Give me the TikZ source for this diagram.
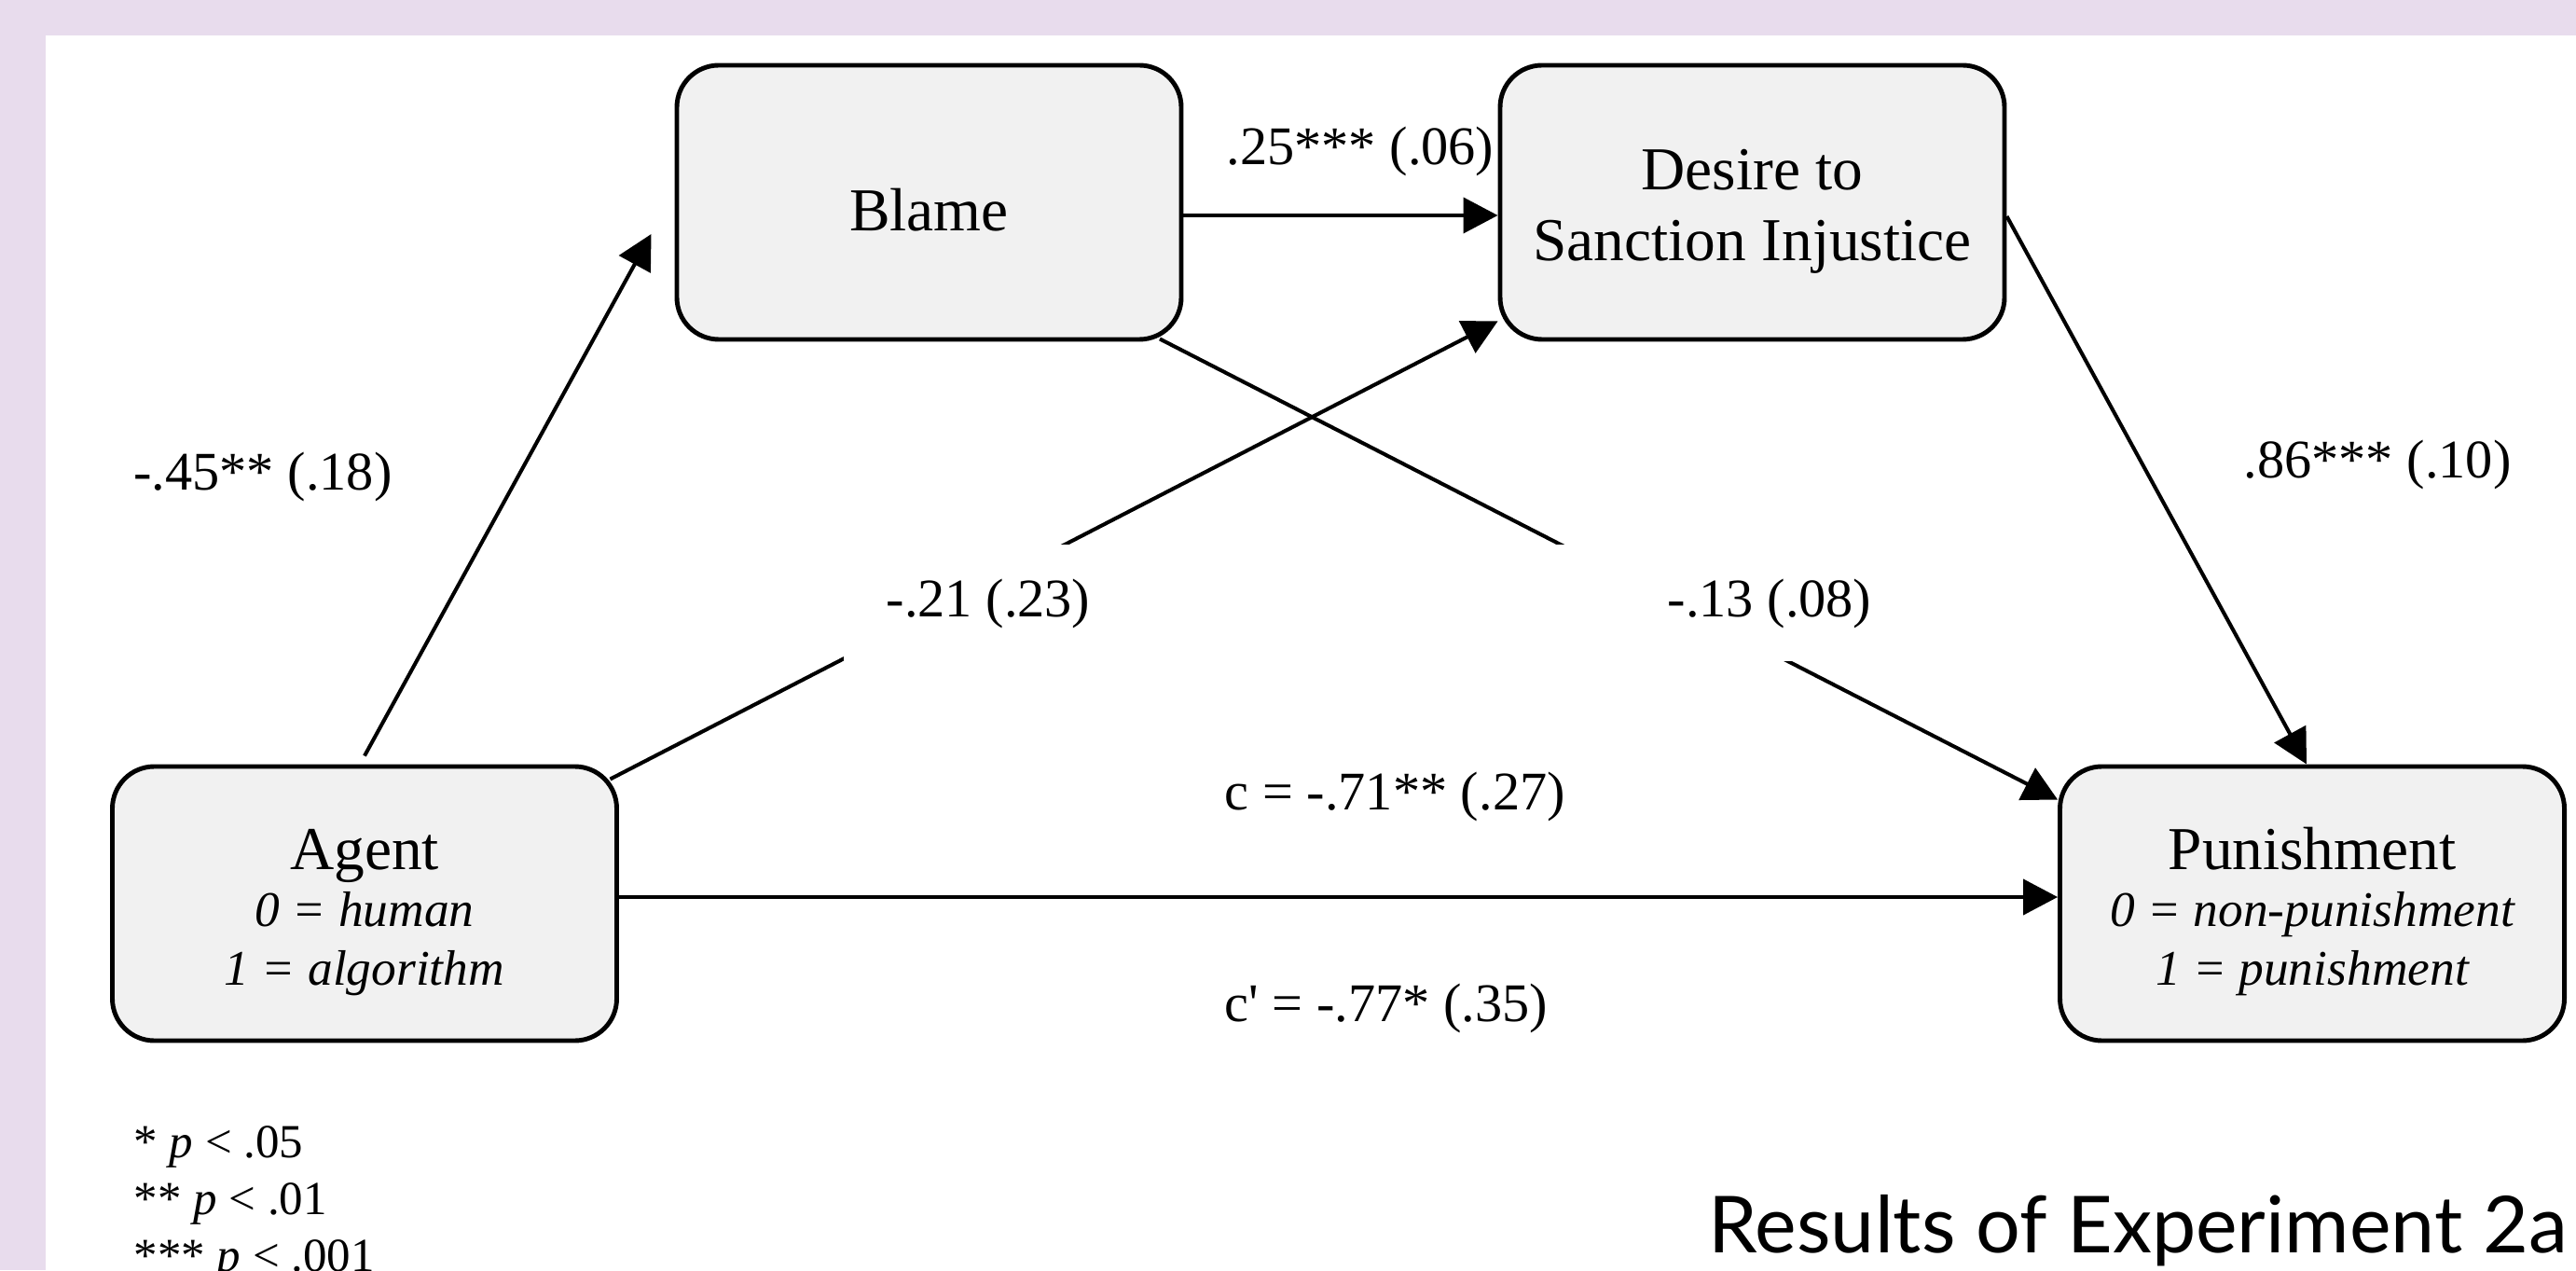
\documentclass[tikz,border=0pt]{standalone}
\usepackage{fontspec}
\setmainfont{Liberation Serif}
\newfontfamily\titlefont{Lato}
\usetikzlibrary{shapes,arrows.meta,positioning}
\definecolor{framebg}{RGB}{232,220,237}
\definecolor{boxgray}{RGB}{241,241,241}
\newcommand{\lvl}[1]{{\fontsize{15.2}{17.5}\selectfont\itshape #1}}
\newcommand{\topstrut}{\rule{0pt}{17.7pt}}
\tikzset{var/.style={rectangle,draw,rounded corners=0.45cm,fill=boxgray,line width=1.4pt,minimum width=5.41cm,minimum height=2.94cm,align=center,font=\fontsize{18.6}{21.6}\selectfont}}
\tikzset{arrow/.style={draw,line width=1.15pt,-{Triangle[length=3.7mm,width=3.8mm]}}}
\tikzset{coef/.style={font=\fontsize{16.6}{19}\selectfont,inner sep=0pt}}
\tikzset{coefgap/.style={coef,fill=white,minimum height=1.25cm}}
\tikzset{note/.style={align=left,font=\fontsize{14.5}{17.4}\selectfont,inner sep=0pt}}

\begin{document}
\begin{tikzpicture}[node distance=8.83cm]
    % frame
    \useasboundingbox (0,0) rectangle (27.63,13.62);
    \fill[framebg] (0,0) rectangle (27.63,13.62);
    \fill[white] (0.49,0) rectangle (27.63,13.24);

    \node[var] (agent) at (3.91,3.93) {\topstrut Agent\\[-4.2pt]\lvl{0 = human}\\[-3.9pt]\lvl{1 = algorithm}};
    \node[var,right of=agent,node distance=20.89cm] (punish) {\topstrut Punishment\\[-4.2pt]\lvl{0 = non-punishment}\\[-3.9pt]\lvl{1 = punishment}};
    \node[var] (blame) at (9.965,11.45) {\topstrut Blame};
    \node[var,right of=blame] (desire) {\topstrut Desire to\\Sanction Injustice};

        \path[arrow] ([yshift=0.9mm]agent.north) -- ([xshift=-2.5mm,yshift=-3.4mm]blame.west);
        \path[arrow] ([yshift=-1.4mm]blame.east) -- ([yshift=-1.4mm]desire.west);
        \path[arrow] ([xshift=-0.95mm,yshift=-1.6mm]agent.north east) -- ([yshift=2.2mm]desire.south west);
        \path[arrow] ([xshift=-2.55mm,yshift=0.3mm]blame.south east) -- ([yshift=-3.8mm]punish.north west);
        \path[arrow] ([yshift=-1.5mm]desire.east) -- ([xshift=-0.6mm]punish.north);
        \path[arrow] ([yshift=0.7mm]agent.east) -- ([yshift=0.7mm]punish.west);

    \node[coef] (l45) at (2.82,8.51) {-.45** (.18)};
    \node[coef,anchor=base] (l25) at (14.59,11.85) {.25*** (.06)};
    \node[coef] (l86) at (25.50,8.64) {.86*** (.10)};
    \node[coefgap,minimum width=3.1cm] (l21) at (10.60,7.15) {-.21 (.23)};
    \node[coefgap,minimum width=4.6cm] (l13) at (18.98,7.15) {-.13 (.08)};
    \node[coef,anchor=base west] (lc) at (13.13,4.94) {c = -.71** (.27)};
    \node[coef,anchor=base west] (lcp) at (13.13,2.67) {c\textquotesingle{} = -.77* (.35)};

    \node[note,anchor=north west] (sig) at (1.43,1.55) {* \textit{p} < .05\\** \textit{p} < .01\\*** \textit{p} < .001};
    \node[anchor=base west,inner sep=0pt,font=\titlefont\fontsize{24}{28}\selectfont] (title) at (18.32,0.19) {Results of Experiment 2a};
\end{tikzpicture}
\end{document}
